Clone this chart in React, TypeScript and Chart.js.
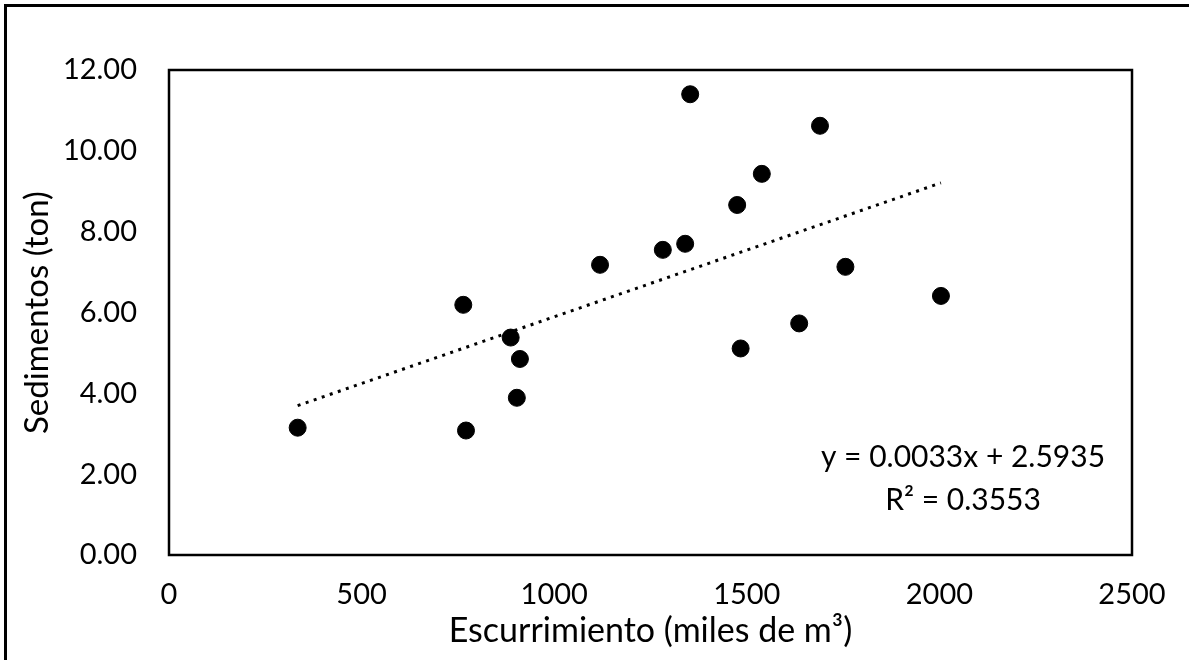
import React, { useEffect, useRef } from "react";
import { Chart, registerables } from "chart.js";

Chart.register(...registerables);

const escurrimiento = [334, 764, 887, 911, 903, 771, 1119, 1282, 1340, 1353, 1475, 1484, 1690, 1539, 1756, 2004, 1636];
const sedimentos = [3.15, 6.19, 5.38, 4.85, 3.89, 3.08, 7.18, 7.55, 7.70, 11.40, 8.66, 5.11, 10.62, 9.43, 7.13, 6.41, 5.73];

const trendSlope = 0.0033;
const trendIntercept = 2.5935;
const trendEquation = "y = 0.0033x + 2.5935";
const trendR2 = "R² = 0.3553";

const xTitle = "Escurrimiento (miles de m³)";
const yTitle = "Sedimentos (ton)";

const FONT = "Lato, 'Open Sans', sans-serif";

export default function App() {
  const ref = useRef<HTMLCanvasElement | null>(null);

  useEffect(() => {
    document.body.style.margin = "0";
    const canvas = ref.current;
    if (!canvas) return;

    const points = escurrimiento.map((x, i) => ({ x, y: sedimentos[i] }));
    const xMin = Math.min(...escurrimiento);
    const xMax = Math.max(...escurrimiento);
    const trend = [
      { x: xMin, y: trendSlope * xMin + trendIntercept },
      { x: xMax, y: trendSlope * xMax + trendIntercept },
    ];

    const framePlugin = {
      id: "frame",
      afterDraw(chart: any) {
        const { ctx, chartArea } = chart;
        ctx.save();
        ctx.strokeStyle = "#000";
        ctx.lineWidth = 2.5;
        ctx.strokeRect(chartArea.left, chartArea.top, chartArea.right - chartArea.left, chartArea.bottom - chartArea.top);
        ctx.fillStyle = "#000";
        ctx.font = `30px ${FONT}`;
        ctx.textAlign = "center";
        ctx.textBaseline = "middle";
        const cx = chartArea.right - 169;
        ctx.fillText(trendEquation, cx, chartArea.bottom - 98);
        ctx.fillText(trendR2, cx, chartArea.bottom - 55);
        ctx.restore();
      },
    };

    const chart = new Chart(canvas, {
      type: "scatter",
      data: {
        datasets: [
          {
            label: "Datos",
            data: points,
            backgroundColor: "#000",
            borderColor: "#000",
            pointRadius: 8.5,
            pointHoverRadius: 8.5,
            order: 1,
          },
          {
            label: "Tendencia",
            type: "line",
            data: trend,
            borderColor: "#000",
            borderWidth: 3,
            borderDash: [3, 5.5],
            pointRadius: 0,
            fill: false,
            order: 2,
          } as any,
        ],
      },
      options: {
        responsive: false,
        animation: false,
        layout: { padding: { left: 0, top: 70, right: 57, bottom: 0 } },
        plugins: { legend: { display: false }, tooltip: { enabled: false } },
        scales: {
          x: {
            type: "linear",
            min: 0,
            max: 2500,
            afterFit(scale: any) {
              scale.height = 105;
            },
            ticks: {
              stepSize: 500,
              color: "#000",
              padding: 22,
              font: { family: FONT, size: 29 },
              maxRotation: 0,
              callback: (v: any) => String(v),
            },
            grid: { display: false, drawTicks: false },
            border: { display: false },
            title: {
              display: true,
              text: xTitle,
              color: "#000",
              font: { family: FONT, size: 34 },
              padding: { top: 0, bottom: 9 },
            },
          },
          y: {
            type: "linear",
            min: 0,
            max: 12,
            afterFit(scale: any) {
              scale.width = 169;
            },
            ticks: {
              stepSize: 2,
              color: "#000",
              padding: 32,
              font: { family: FONT, size: 29 },
              callback: (v: any) => Number(v).toFixed(2),
            },
            grid: { display: false, drawTicks: false },
            border: { display: false },
            title: {
              display: true,
              text: yTitle,
              color: "#000",
              font: { family: FONT, size: 33 },
              padding: { top: 18, bottom: 0 },
            },
          },
        },
      },
      plugins: [framePlugin],
    });

    return () => chart.destroy();
  }, []);

  return (
    <div style={{ position: "relative", width: 1189, height: 660, background: "#fff", overflow: "hidden" }}>
      <canvas ref={ref} width={1189} height={660} style={{ display: "block" }} />
      <div
        style={{
          position: "absolute",
          left: 4,
          top: 4,
          width: 1300,
          height: 800,
          borderTop: "3px solid #000",
          borderLeft: "3px solid #000",
          pointerEvents: "none",
        }}
      />
    </div>
  );
}
